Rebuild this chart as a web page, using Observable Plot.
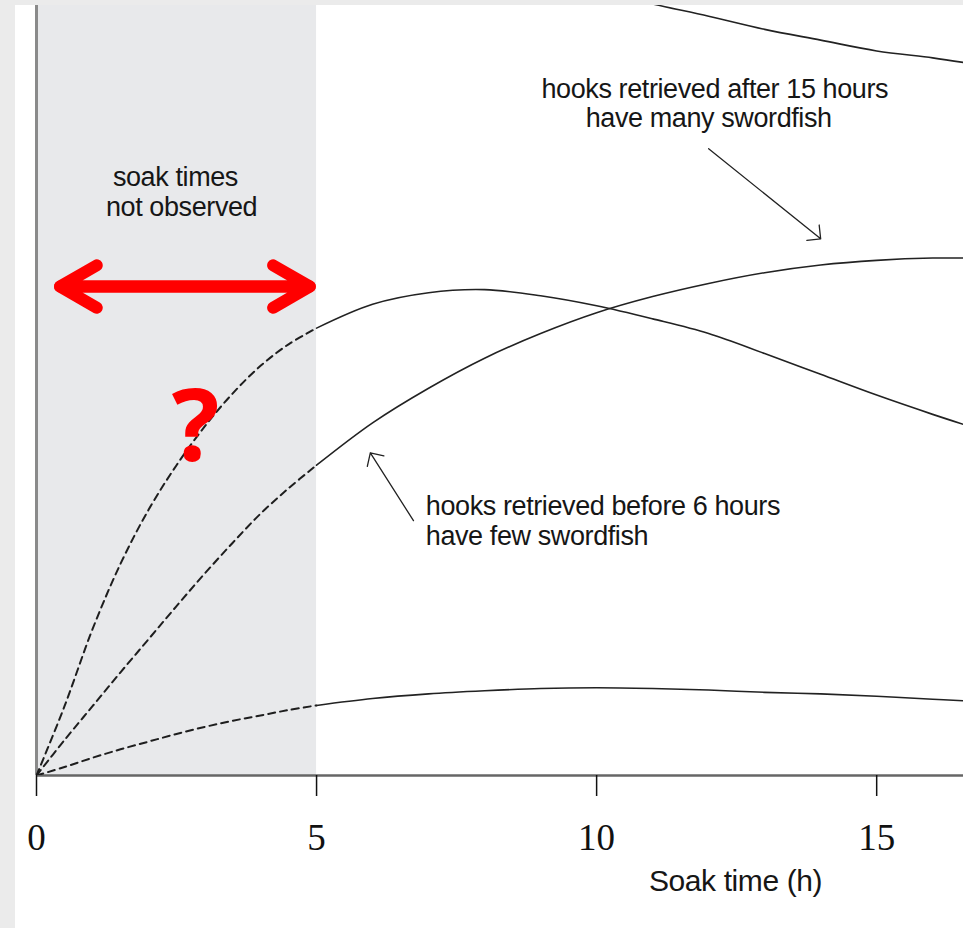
<!DOCTYPE html>
<html>
<head>
<meta charset="utf-8">
<script src="https://cdn.jsdelivr.net/npm/d3@7"></script>
<script src="https://cdn.jsdelivr.net/npm/@observablehq/plot@0.6"></script>
<style>
  html, body { margin: 0; padding: 0; background: #ebebeb; width: 963px; height: 928px; overflow: hidden; }
  #panel { position: absolute; left: 15px; top: 5px; width: 948px; height: 923px; background: #ffffff; }
</style>
</head>
<body>
<div id="panel"></div>
<script>
// ---- data ----
const dashedHours = [0, 0.5, 1, 1.5, 2, 2.5, 3, 3.5, 4, 4.5, 5];
const dashedEarlyPeak = [0, 9, 19, 27.5, 34.5, 40.3, 45.3, 49.6, 53.2, 56, 58.1];
const dashedLatePeak  = [0, 4.6, 9.0, 13.4, 17.7, 22.0, 26.2, 30.2, 34.0, 37.3, 40.3];
const dashedLow       = [0, 1.1, 2.3, 3.4, 4.4, 5.4, 6.3, 7.1, 7.8, 8.5, 9.1];

const solidHours = [5, 6, 7, 8, 9, 10, 11, 12, 13, 14, 15, 16, 16.55];
const solidEarlyPeak = [58.1, 61.2, 62.7, 63.1, 62.3, 61.0, 59.3, 57.4, 54.8, 52.1, 49.4, 46.9, 45.6];
const solidLatePeak  = [40.3, 45.8, 50.3, 54.2, 57.4, 60.1, 62.2, 63.9, 65.3, 66.3, 66.9, 67.2, 67.2];
const solidLow       = [9.1, 10.0, 10.6, 11.0, 11.3, 11.4, 11.3, 11.1, 10.8, 10.6, 10.3, 9.9, 9.7];

const topHours = [10.5, 11, 12, 13, 14, 15, 16, 16.55];
const topCurve = [101.1, 100.2, 98.6, 96.9, 95.5, 94.1, 93.2, 92.6];

const xTicks = [0, 5, 10, 15];
const unobserved = [{from: 0, to: 5}];

const centeredNotes = [
  {hour: 2.48, value: 76.6, text: "soak times"},
  {hour: 2.59, value: 72.7, text: "not observed"},
  {hour: 12.11, value: 88.05, text: "hooks retrieved after 15 hours"},
  {hour: 12.0, value: 84.2, text: "have many swordfish"}
];
const leftNotes = [
  {hour: 6.95, value: 33.8, text: "hooks retrieved before 6 hours"},
  {hour: 6.95, value: 29.9, text: "have few swordfish"}
];
const pointerArrows = [
  {x1: 12.0, y1: 81.4, x2: 14.0, y2: 69.7},
  {x1: 6.73, y1: 33.1, x2: 5.96, y2: 41.9}
];
const redArrows = [
  {x1: 0.42, y1: 63.5, x2: 4.88, y2: 63.5},
  {x1: 4.88, y1: 63.5, x2: 0.42, y2: 63.5}
];
const questionMark = [{hour: 2.84, value: 40.9, text: "?"}];
const axisTitle = [{hour: 12.48, text: "Soak time (h)"}];

// ---- build tables ----
function rows(series, hours, values) {
  return hours.map((h, i) => ({series, hour: h, value: values[i]}));
}
const dashed = [
  ...rows("early", dashedHours, dashedEarlyPeak),
  ...rows("late", dashedHours, dashedLatePeak),
  ...rows("low", dashedHours, dashedLow)
];
const solid = [
  ...rows("early", solidHours, solidEarlyPeak),
  ...rows("late", solidHours, solidLatePeak),
  ...rows("low", solidHours, solidLow),
  ...rows("top", topHours, topCurve)
];

const textColor = "#161616";
const sans = "Liberation Sans, Arial, Helvetica, sans-serif";

const chart = Plot.plot({
  width: 948,
  height: 923,
  marginLeft: 21,
  marginRight: 0,
  marginTop: 0,
  marginBottom: 153,
  style: {background: "white", fontFamily: sans, color: "#111", overflow: "visible"},
  x: {domain: [0, 16.55]},
  y: {domain: [0, 100], axis: null},
  marks: [
    Plot.rect(unobserved, {x1: "from", x2: "to", y1: 0, y2: 100, fill: "#e8e9eb"}),
    Plot.ruleX([0], {stroke: "#8a8a8a", strokeWidth: 3}),
    Plot.ruleY([0], {stroke: "#666", strokeWidth: 2.5}),
    Plot.axisX({
      ticks: xTicks, tickSize: 21, tickPadding: 27, tickFormat: d => String(d),
      fontSize: 37, fontFamily: "Liberation Serif, Times New Roman, serif",
      strokeWidth: 1.5, stroke: "#111", fill: "#111", label: null
    }),
    Plot.line(dashed, {
      x: "hour", y: "value", z: "series", curve: "catmull-rom",
      stroke: "#1e1e1e", strokeWidth: 2, strokeDasharray: "7,5", clip: true
    }),
    Plot.line(solid, {
      x: "hour", y: "value", z: "series", curve: "catmull-rom",
      stroke: "#222", strokeWidth: 1.6, clip: true
    }),
    Plot.arrow(pointerArrows, {
      x1: "x1", y1: "y1", x2: "x2", y2: "y2",
      stroke: "#222", strokeWidth: 1.3, headAngle: 90, headLength: 16
    }),
    Plot.arrow(redArrows, {
      x1: "x1", y1: "y1", x2: "x2", y2: "y2",
      stroke: "#ff0000", strokeWidth: 12, headAngle: 60, headLength: 5.3,
      strokeLinecap: "round", strokeLinejoin: "miter"
    }),
    Plot.text(centeredNotes, {
      x: "hour", y: "value", text: "text", textAnchor: "middle", lineAnchor: "bottom",
      fontSize: 27, fill: textColor, fontFamily: sans
    }),
    Plot.text(leftNotes, {
      x: "hour", y: "value", text: "text", textAnchor: "start", lineAnchor: "bottom",
      fontSize: 27, fill: textColor, fontFamily: sans
    }),
    Plot.text(questionMark, {
      x: "hour", y: "value", text: "text", textAnchor: "middle", lineAnchor: "bottom",
      fontSize: 100, fontWeight: 700, fill: "#ff0000", fontFamily: "Open Sans, Noto Sans, sans-serif"
    }),
    Plot.text(axisTitle, {
      x: "hour", text: "text", frameAnchor: "bottom", dy: 115, lineAnchor: "bottom",
      fontSize: 30, fill: textColor, fontFamily: sans
    })
  ]
});
chart.querySelectorAll("text").forEach(t => {
  if (t.textContent && t.textContent.length > 6) t.style.letterSpacing = "-0.4px";
});
document.getElementById("panel").appendChild(chart);
</script>
</body>
</html>
